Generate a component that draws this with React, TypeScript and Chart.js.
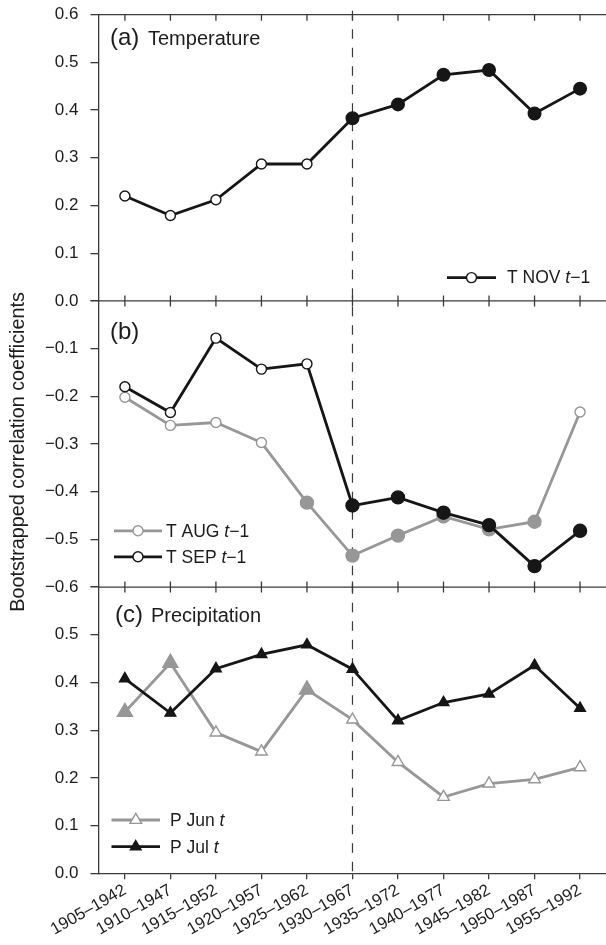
import React, { useEffect, useRef } from 'react';
import { Chart, registerables } from 'chart.js';

Chart.register(...registerables);

// ---------- data ----------
const periods = [
  '1905–1942', '1910–1947', '1915–1952', '1920–1957', '1925–1962', '1930–1967',
  '1935–1972', '1940–1977', '1945–1982', '1950–1987', '1955–1992',
];
const splitPeriod = '1930–1967';

// (a) Temperature
const tNov = [0.220, 0.179, 0.212, 0.287, 0.287, 0.383, 0.412, 0.474, 0.484, 0.393, 0.445];
const tNovSig = [false, false, false, false, false, true, true, true, true, true, true];

// (b)
const tAug = [-0.202, -0.261, -0.255, -0.297, -0.423, -0.534, -0.492, -0.452, -0.479, -0.463, -0.233];
const tAugSig = [false, false, false, false, true, true, true, true, true, true, false];
const tSep = [-0.180, -0.234, -0.078, -0.143, -0.132, -0.429, -0.412, -0.444, -0.470, -0.556, -0.482];
const tSepSig = [false, false, false, false, false, true, true, true, true, true, true];

// (c) Precipitation
const pJun = [0.338, 0.441, 0.295, 0.255, 0.385, 0.322, 0.233, 0.160, 0.188, 0.197, 0.222];
const pJunSig = [true, true, false, false, true, false, false, false, false, false, false];
const pJul = [0.408, 0.336, 0.429, 0.459, 0.479, 0.428, 0.320, 0.358, 0.376, 0.436, 0.346];
const pJulSig = [true, true, true, true, true, true, true, true, true, true, true];

const yTitle = 'Bootstrapped correlation coefficients';

// ---------- style ----------
const BLACK = '#161616';
const GRAY = '#979797';
const AXIS = '#3a3a3a';
const TEXT = '#1c1c1c';
const FONT = "'Liberation Sans', Arial, Helvetica, sans-serif";

Chart.defaults.font.family = FONT;
Chart.defaults.color = TEXT;

function series(
  label: string,
  values: number[],
  sig: boolean[],
  color: string,
  style: string,
  yAxisID: string,
  order: number,
  rOpen: number,
  rFilled: number,
) {
  return {
    label,
    data: values.map((v, i) => ({ x: i, y: v })),
    yAxisID,
    order,
    borderColor: color,
    borderWidth: 2.8,
    tension: 0,
    clip: 12,
    pointStyle: style,
    pointBackgroundColor: sig.map((s) => (s ? color : '#ffffff')),
    pointBorderColor: color,
    pointBorderWidth: 1.4,
    pointRadius: sig.map((s) => (s ? rFilled : rOpen)),
    pointHoverRadius: sig.map((s) => (s ? rFilled : rOpen)),
  };
}

const fmt = (v: number) => Number(v).toFixed(1).replace('-', '−');

type Part = [string, boolean];

function drawMarker(ctx: CanvasRenderingContext2D, style: string, cx: number, cy: number, r: number) {
  ctx.beginPath();
  if (style === 'circle') {
    ctx.arc(cx, cy, r, 0, Math.PI * 2);
  } else {
    let rad = 0;
    ctx.moveTo(cx + Math.sin(rad) * r, cy - Math.cos(rad) * r);
    rad += (Math.PI * 2) / 3;
    ctx.lineTo(cx + Math.sin(rad) * r, cy - Math.cos(rad) * r);
    rad += (Math.PI * 2) / 3;
    ctx.lineTo(cx + Math.sin(rad) * r, cy - Math.cos(rad) * r);
    ctx.closePath();
  }
}

function legendItem(
  ctx: CanvasRenderingContext2D,
  x0: number,
  x1: number,
  y: number,
  color: string,
  style: string,
  filled: boolean,
  r: number,
  textX: number,
  parts: Part[],
) {
  ctx.save();
  ctx.strokeStyle = color;
  ctx.lineWidth = 2.8;
  ctx.beginPath();
  ctx.moveTo(x0, y);
  ctx.lineTo(x1, y);
  ctx.stroke();
  drawMarker(ctx, style, (x0 + x1) / 2, y, r);
  ctx.fillStyle = filled ? color : '#ffffff';
  ctx.fill();
  ctx.lineWidth = 1.4;
  ctx.stroke();
  ctx.fillStyle = TEXT;
  ctx.textAlign = 'left';
  ctx.textBaseline = 'middle';
  let tx = textX;
  for (const [txt, italic] of parts) {
    ctx.font = `${italic ? 'italic ' : ''}17.5px ${FONT}`;
    ctx.fillText(txt, tx, y + 1);
    tx += ctx.measureText(txt).width;
  }
  ctx.restore();
}

function panelLabel(ctx: CanvasRenderingContext2D, x: number, y: number, tag: string, name: string, nameX: number) {
  ctx.save();
  ctx.fillStyle = TEXT;
  ctx.textAlign = 'left';
  ctx.textBaseline = 'alphabetic';
  ctx.font = `24px ${FONT}`;
  ctx.fillText(tag, x, y);
  if (name) {
    ctx.font = `20px ${FONT}`;
    ctx.fillText(name, nameX, y);
  }
  ctx.restore();
}

const framePlugin = {
  id: 'panelFrame',
  beforeDatasetsDraw(chart: any) {
    const { ctx, chartArea, scales } = chart;
    const x = scales.x;
    const ya = scales.ya;
    const yb = scales.yb;
    ctx.save();
    ctx.strokeStyle = AXIS;
    ctx.lineWidth = 1.3;
    const lines = [
      { y: ya.getPixelForValue(0.6), up: 0, down: 6 },
      { y: ya.getPixelForValue(0), up: 5.5, down: 5.5 },
      { y: yb.getPixelForValue(-0.6), up: 5.5, down: 5.5 },
    ];
    for (const l of lines) {
      ctx.beginPath();
      ctx.moveTo(chartArea.left, l.y);
      ctx.lineTo(chartArea.right, l.y);
      periods.forEach((_, i) => {
        const px = x.getPixelForValue(i);
        ctx.moveTo(px, l.y - l.up);
        ctx.lineTo(px, l.y + l.down);
      });
      ctx.stroke();
    }
    const dx = x.getPixelForValue(periods.indexOf(splitPeriod));
    ctx.setLineDash([9.5, 9]);
    ctx.lineWidth = 1.2;
    ctx.beginPath();
    ctx.moveTo(dx, chartArea.top - 4);
    ctx.lineTo(dx, chartArea.bottom + 7);
    ctx.stroke();
    ctx.restore();

    // shared y-axis title for the three stacked panels
    ctx.save();
    ctx.fillStyle = TEXT;
    ctx.font = `19.8px ${FONT}`;
    ctx.textAlign = 'center';
    ctx.textBaseline = 'middle';
    const midY = (ya.getPixelForValue(0.6) + scales.yc.getPixelForValue(0)) / 2 + 8;
    ctx.translate(chartArea.left - 79.5, midY);
    ctx.rotate(-Math.PI / 2);
    ctx.fillText(yTitle, 0, 0);
    ctx.restore();
  },
  afterDatasetsDraw(chart: any) {
    const { ctx, chartArea, scales } = chart;
    const ya = scales.ya;
    const yb = scales.yb;
    const yc = scales.yc;
    const L = chartArea.left;
    const R = chartArea.right;

    const aTop = ya.getPixelForValue(0.6);
    const bTop = yb.getPixelForValue(0);
    const cTop = yc.getPixelForValue(0.6);
    panelLabel(ctx, L + 11.5, aTop + 30, '(a)', 'Temperature', L + 49.5);
    panelLabel(ctx, L + 11.5, bTop + 38.3, '(b)', '', 0);
    panelLabel(ctx, L + 16.5, cTop + 35.3, '(c)', 'Precipitation', L + 52.5);

    const aBot = ya.getPixelForValue(0);
    legendItem(ctx, R - 159, R - 110, aBot - 23.3, BLACK, 'circle', false, 5, R - 99,
      [['T NOV ', false], ['t', true], ['−1', false]]);

    const bBot = yb.getPixelForValue(-0.6);
    legendItem(ctx, L + 15.5, L + 63.5, bBot - 56.3, GRAY, 'circle', false, 5, L + 67.5,
      [['T AUG ', false], ['t', true], ['−1', false]]);
    legendItem(ctx, L + 15.5, L + 63.5, bBot - 30.3, BLACK, 'circle', false, 5, L + 67.5,
      [['T SEP ', false], ['t', true], ['−1', false]]);

    const cBot = yc.getPixelForValue(0);
    legendItem(ctx, L + 13, L + 61.5, cBot - 53.3, GRAY, 'triangle', false, 6.7, L + 71.5,
      [['P Jun ', false], ['t', true]]);
    legendItem(ctx, L + 13, L + 61.5, cBot - 26.6, BLACK, 'triangle', true, 6.2, L + 71.5,
      [['P Jul ', false], ['t', true]]);
  },
};

const yBase = (min: number, max: number, weight: number, hide: number | null) => ({
  type: 'linear',
  position: 'left',
  stack: 'panels',
  stackWeight: 1,
  weight,
  min,
  max,
  afterFit: (s: any) => {
    s.width = 98.5;
    s.paddingTop = 0;
    s.paddingBottom = 0;
  },
  ticks: {
    stepSize: 0.1,
    padding: 12,
    color: TEXT,
    font: { size: 17, family: FONT },
    callback: (v: number) => (hide !== null && Math.abs(v - hide) < 1e-9 ? '' : fmt(v)),
  },
  grid: {
    drawOnChartArea: false,
    drawTicks: true,
    tickLength: 8,
    color: AXIS,
    lineWidth: 1.3,
  },
  border: { display: true, color: AXIS, width: 1.3 },
});

export default function App() {
  const ref = useRef<HTMLCanvasElement | null>(null);

  useEffect(() => {
    if (!ref.current) return;
    const chart = new Chart(ref.current, {
      type: 'line',
      data: {
        datasets: [
          series('T NOV t−1', tNov, tNovSig, BLACK, 'circle', 'ya', 1, 5, 6.3),
          series('T AUG t−1', tAug, tAugSig, GRAY, 'circle', 'yb', 2, 5, 6.5),
          series('T SEP t−1', tSep, tSepSig, BLACK, 'circle', 'yb', 1, 5, 6.5),
          series('P Jun t', pJun, pJunSig, GRAY, 'triangle', 'yc', 2, 6.7, 8.7),
          series('P Jul t', pJul, pJulSig, BLACK, 'triangle', 'yc', 1, 6.2, 6.2),
        ] as any,
      },
      options: {
        responsive: false,
        animation: false,
        devicePixelRatio: 1,
        layout: { autoPadding: false, padding: { top: 14.7, left: 0, right: 0, bottom: 0 } },
        plugins: {
          legend: { display: false },
          tooltip: { enabled: false },
          title: { display: false },
        },
        scales: {
          x: {
            type: 'linear',
            position: 'bottom',
            min: -0.58,
            max: 10.57,
            afterBuildTicks: (s: any) => {
              s.ticks = periods.map((_, i) => ({ value: i }));
            },
            afterFit: (s: any) => {
              s.height = 71.7;
              s.paddingLeft = 0;
              s.paddingRight = 0;
            },
            ticks: {
              autoSkip: false,
              minRotation: 30,
              maxRotation: 30,
              padding: 1,
              color: TEXT,
              font: { size: 16.8, family: FONT },
              callback: (v: number) => periods[Math.round(v)] ?? '',
            },
            grid: {
              drawOnChartArea: false,
              drawTicks: true,
              tickLength: 6,
              color: AXIS,
              lineWidth: 1.3,
            },
            border: { display: true, color: AXIS, width: 1.3 },
          },
          yc: yBase(0, 0.6, 1, 0.6),
          yb: yBase(-0.6, 0, 2, 0),
          ya: yBase(0, 0.6, 3, null),
        } as any,
      },
      plugins: [framePlugin],
    });
    return () => chart.destroy();
  }, []);

  return (
    <div style={{ position: 'absolute', left: 0, top: 0, width: 606, height: 945, background: '#ffffff' }}>
      <canvas ref={ref} width={606} height={945} style={{ display: 'block', width: 606, height: 945 }} />
    </div>
  );
}
